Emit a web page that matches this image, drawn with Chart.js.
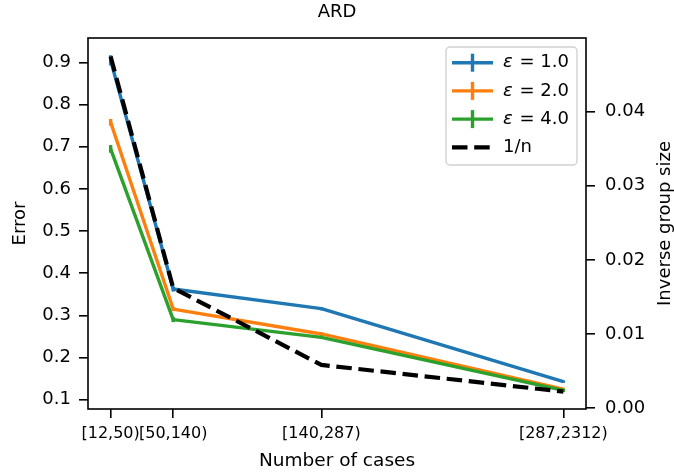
<!DOCTYPE html>
<html>
<head>
<meta charset="utf-8">
<script src="https://cdn.jsdelivr.net/npm/chart.js@4"></script>
<style>
html,body{margin:0;padding:0;background:#fff;}
#wrap{width:674px;height:474px;}
</style>
</head>
<body>
<div id="wrap"><canvas id="c" width="674" height="474"></canvas></div>
<script>
// ---- data ----
const categories = ['[12,50)', '[50,140)', '[140,287)', '[287,2312)'];
const groupLowerBounds = [12, 50, 140, 287];
const epsilons = [1.0, 2.0, 4.0];
const errorEps1 = [0.905, 0.3625, 0.316, 0.143];
const errorEps2 = [0.758, 0.315, 0.256, 0.125];
const errorEps4 = [0.695, 0.290, 0.248, 0.122];
const sdEps1 = [0.012, 0.006, 0.004, 0.003];
const sdEps2 = [0.008, 0.005, 0.004, 0.003];
const sdEps4 = [0.009, 0.006, 0.004, 0.004];
const inverseGroupSize = [0.0474, 0.0162, 0.00584, 0.00224];
const errorTicks = [0.1, 0.2, 0.3, 0.4, 0.5, 0.6, 0.7, 0.8, 0.9];
const inverseTicks = [0.00, 0.01, 0.02, 0.03, 0.04];

const seriesColors = ['#1f77b4', '#ff7f0e', '#2ca02c'];
const errorSeries = [errorEps1, errorEps2, errorEps4];
const sdSeries = [sdEps1, sdEps2, sdEps4];

Chart.defaults.font.family = "'DejaVu Sans'";
Chart.defaults.font.size = 18;
Chart.defaults.color = '#000';

const toPoints = ys => groupLowerBounds.map((x, i) => ({x: x, y: ys[i]}));

// matplotlib-like 5% x margins
const xSpan = groupLowerBounds[groupLowerBounds.length - 1] - groupLowerBounds[0];
const xMin = groupLowerBounds[0] - 0.05 * xSpan;
const xMax = groupLowerBounds[groupLowerBounds.length - 1] + 0.05 * xSpan;

const datasets = [{
  label: '1/n',
  data: toPoints(inverseGroupSize),
  yAxisID: 'y2',
  borderColor: '#000',
  borderWidth: 4.2,
  borderDash: [15.5, 6.7],
  borderCapStyle: 'butt',
  pointRadius: 0,
  fill: false,
  order: 0
}];
epsilons.forEach((e, k) => {
  datasets.push({
    label: 'ε = ' + e.toFixed(1),
    data: toPoints(errorSeries[k]),
    errors: sdSeries[k],
    yAxisID: 'y',
    borderColor: seriesColors[k],
    borderWidth: 3.4,
    borderJoinStyle: 'round',
    pointRadius: 0,
    fill: false,
    order: 3 - k
  });
});

const errorBarPlugin = {
  id: 'errorBars',
  afterDatasetDraw(chart, args) {
    const ds = chart.data.datasets[args.index];
    if (!ds.errors) return;
    const ctx = chart.ctx;
    const xs = chart.scales.x, ys = chart.scales[ds.yAxisID];
    ctx.save();
    ctx.strokeStyle = ds.borderColor;
    ctx.lineWidth = ds.borderWidth;
    ctx.lineCap = 'butt';
    ds.data.forEach((p, i) => {
      const px = xs.getPixelForValue(p.x);
      ctx.beginPath();
      ctx.moveTo(px, ys.getPixelForValue(p.y - ds.errors[i]));
      ctx.lineTo(px, ys.getPixelForValue(p.y + ds.errors[i]));
      ctx.stroke();
    });
    ctx.restore();
  }
};

const framePlugin = {
  id: 'mplFrame',
  afterDatasetsDraw(chart) {
    const {ctx, chartArea: a} = chart;
    ctx.save();
    ctx.strokeStyle = '#000';
    ctx.lineWidth = 1.6;
    ctx.strokeRect(a.left, a.top, a.right - a.left, a.bottom - a.top);
    ctx.restore();
  },
  afterDraw(chart) {
    const {ctx, chartArea: a} = chart;
    // right axis title (reads bottom to top)
    ctx.save();
    ctx.font = "18px 'DejaVu Sans'";
    ctx.fillStyle = '#000';
    ctx.textAlign = 'center';
    ctx.textBaseline = 'middle';
    ctx.translate(chart.width - 8.5, (a.top + a.bottom) / 2);
    ctx.rotate(-Math.PI / 2);
    ctx.fillText('Inverse group size', 0, 0);
    ctx.restore();

    // legend (matplotlib style, upper right inside axes)
    const order = [1, 2, 3, 0];
    const w = 131, h = 118;
    const x0 = a.right - 9 - w, y0 = a.top + 9;
    ctx.save();
    ctx.beginPath();
    ctx.roundRect(x0, y0, w, h, 4);
    ctx.fillStyle = 'rgba(255,255,255,0.8)';
    ctx.fill();
    ctx.strokeStyle = 'rgba(204,204,204,0.9)';
    ctx.lineWidth = 1.4;
    ctx.stroke();
    order.forEach((di, r) => {
      const ds = chart.data.datasets[di];
      const cy = y0 + 15.7 + r * 28.2;
      const hx0 = x0 + 6, hx1 = x0 + 47;
      ctx.strokeStyle = ds.borderColor;
      ctx.lineWidth = ds.borderWidth;
      ctx.lineCap = 'butt';
      ctx.setLineDash(ds.borderDash || []);
      ctx.beginPath();
      ctx.moveTo(hx0, cy);
      ctx.lineTo(hx1, cy);
      ctx.stroke();
      ctx.setLineDash([]);
      if (ds.errors) {
        ctx.beginPath();
        ctx.moveTo((hx0 + hx1) / 2, cy - 9);
        ctx.lineTo((hx0 + hx1) / 2, cy + 9);
        ctx.stroke();
      }
      ctx.fillStyle = '#000';
      ctx.textAlign = 'left';
      ctx.textBaseline = 'middle';
      let tx = x0 + 57;
      let label = ds.label;
      if (label.charAt(0) === 'ε') {
        ctx.font = "italic 18px 'DejaVu Sans'";
        ctx.fillText('ε', tx, cy);
        tx += ctx.measureText('ε').width + 1;
        label = label.slice(1);
      }
      ctx.font = "18px 'DejaVu Sans'";
      ctx.fillText(label, tx, cy);
    });
    ctx.restore();
  }
};

const tickGrid = {drawOnChartArea: false, drawTicks: true, tickLength: 9, color: '#000', lineWidth: 1.6};

new Chart(document.getElementById('c'), {
  type: 'line',
  data: {datasets: datasets},
  options: {
    responsive: false,
    animation: false,
    devicePixelRatio: 1,
    layout: {padding: 0},
    plugins: {
      legend: {display: false},
      tooltip: {enabled: false},
      title: {
        display: true,
        text: 'ARD',
        font: {size: 18, weight: 'normal'},
        color: '#000',
        padding: {top: 2, bottom: 14.4}
      }
    },
    scales: {
      x: {
        type: 'linear',
        min: xMin,
        max: xMax,
        afterBuildTicks: s => { s.ticks = groupLowerBounds.map(v => ({value: v})); },
        afterFit: s => { s.height = 65; },
        ticks: {
          autoSkip: false, maxRotation: 0, minRotation: 0, padding: 6,
          font: {size: 16},
          callback: v => categories[groupLowerBounds.indexOf(v)]
        },
        grid: tickGrid,
        border: {display: false},
        title: {display: true, text: 'Number of cases', font: {size: 18.5}, padding: {top: 0, bottom: 2.2}}
      },
      y: {
        type: 'linear',
        position: 'left',
        min: 0.078,
        max: 0.958,
        afterBuildTicks: s => { s.ticks = errorTicks.map(v => ({value: v})); },
        afterFit: s => { s.width = 88; },
        ticks: {padding: 8, font: {size: 18}, callback: v => v.toFixed(1)},
        grid: tickGrid,
        border: {display: false},
        title: {display: true, text: 'Error', font: {size: 18}, padding: {top: 9.2, bottom: 0}}
      },
      y2: {
        type: 'linear',
        position: 'right',
        min: -0.0001,
        max: 0.0499,
        afterBuildTicks: s => { s.ticks = inverseTicks.map(v => ({value: v})); },
        afterFit: s => { s.width = 88; },
        ticks: {padding: 10, font: {size: 18}, callback: v => v.toFixed(2)},
        grid: tickGrid,
        border: {display: false}
      }
    }
  },
  plugins: [errorBarPlugin, framePlugin]
});
</script>
</body>
</html>
